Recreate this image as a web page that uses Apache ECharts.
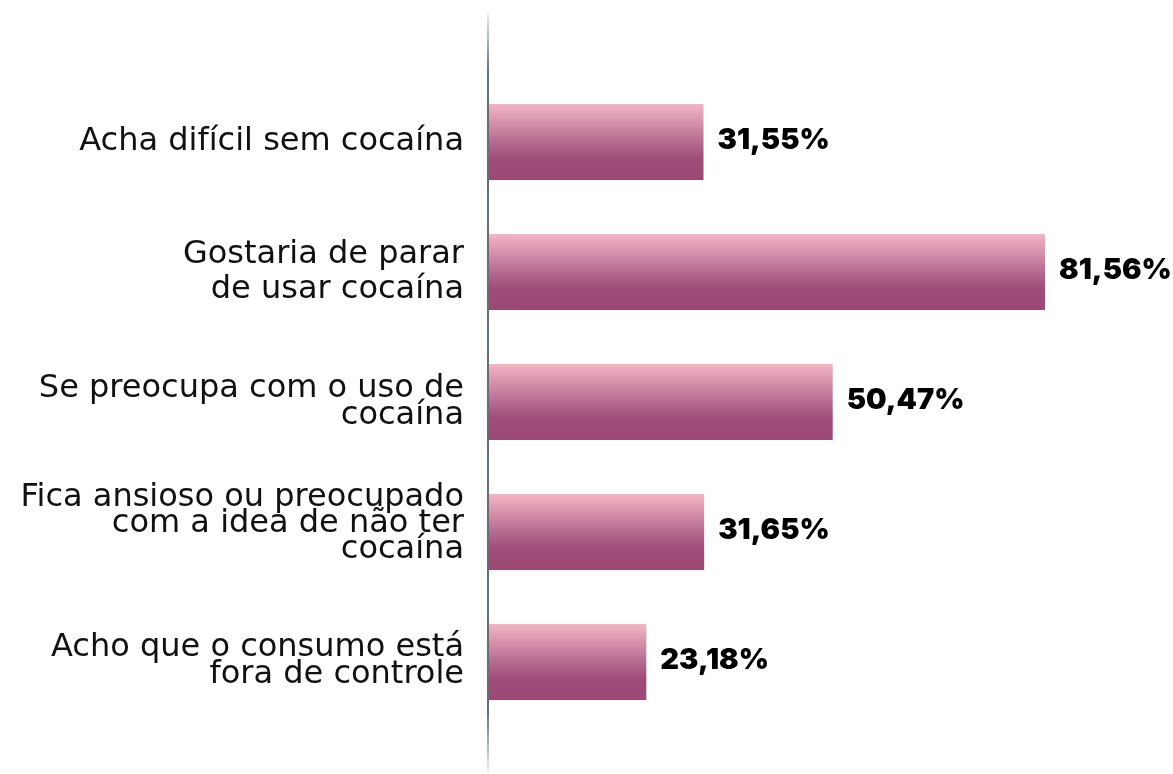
<!DOCTYPE html>
<html>
<head>
<meta charset="utf-8">
<script src="https://cdn.jsdelivr.net/npm/echarts@6/dist/echarts.min.js"></script>
<style>
html,body{margin:0;padding:0;background:#fff;}
#chart{width:1173px;height:774px;}
</style>
</head>
<body>
<div id="chart"></div>
<script>
const categories = [
  'Acha difícil sem cocaína',
  'Gostaria de parar\nde usar cocaína',
  'Se preocupa com o uso de\ncocaína',
  'Fica ansioso ou preocupado\ncom a idea de não ter\ncocaína',
  'Acho que o consumo está\nfora de controle'
];
const labelLineHeights = [32, 35, 27, 26, 27];
const labelSpacer = [0, 0, 0, 16, 2];
const values = [31.55, 81.56, 50.47, 31.65, 23.18];
const valueLabels = ['31,55%', '81,56%', '50,47%', '31,65%', '23,18%'];

const chart = echarts.init(document.getElementById('chart'));
const FONT = 'DejaVu Sans';
const rich = {};
labelLineHeights.forEach((lh, i) => {
  rich['t' + i] = { fontFamily: FONT, fontSize: 32, color: '#111111', lineHeight: lh, align: 'right' };
  rich['s' + i] = { fontSize: 1, lineHeight: Math.max(labelSpacer[i], 1), align: 'right' };
});
chart.setOption({
  backgroundColor: '#ffffff',
  animation: false,
  grid: { left: 488, right: 2, top: 77, bottom: 47, containLabel: false },
  xAxis: {
    type: 'value', min: 0, max: 100, show: false
  },
  yAxis: {
    type: 'category',
    inverse: true,
    data: categories,
    axisLine: { show: false },
    axisTick: { show: false },
    axisLabel: {
      margin: 24,
      fontFamily: FONT,
      fontSize: 32,
      color: '#111111',
      align: 'right',
      formatter: (v, i) => {
        const lines = v.split('\n').map(l => '{t' + i + '|' + l + '}');
        if (labelSpacer[i] > 0) lines.push('{s' + i + '| }');
        return lines.join('\n');
      },
      rich: rich
    }
  },
  graphic: [{
    type: 'rect',
    shape: { x: 487, y: 12, width: 2, height: 761 },
    style: {
      fill: new echarts.graphic.LinearGradient(0, 0, 0, 1, [
        { offset: 0, color: 'rgba(100,110,115,0.1)' },
        { offset: 0.08, color: '#646e73' },
        { offset: 0.92, color: '#646e73' },
        { offset: 1, color: 'rgba(100,110,115,0.1)' }
      ])
    },
    z: 10
  }],
  series: [{
    type: 'bar',
    data: values,
    barWidth: 76,
    itemStyle: {
      color: new echarts.graphic.LinearGradient(0, 0, 0, 1, [
        { offset: 0, color: '#f4b6c6' },
        { offset: 0.5, color: '#b56b90' },
        { offset: 0.72, color: '#a04c78' },
        { offset: 1, color: '#9c4875' }
      ])
    },
    label: {
      show: true,
      position: 'right',
      distance: 14,
      offset: [0, -2],
      fontFamily: 'Inter',
      fontWeight: 900,
      fontSize: 29,
      color: '#000000',
      formatter: p => valueLabels[p.dataIndex]
    }
  }]
});
</script>
</body>
</html>
